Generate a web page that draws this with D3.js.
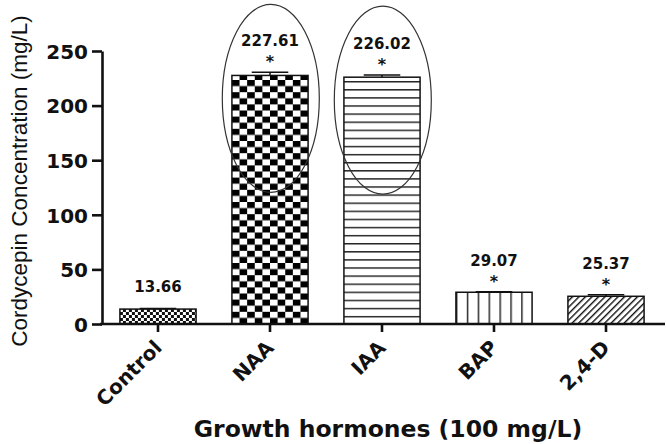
<!DOCTYPE html>
<html><head><meta charset="utf-8">
<script src="https://cdn.jsdelivr.net/npm/d3@7"></script>
<style>html,body{margin:0;padding:0;background:#fff;}svg{display:block;}</style>
</head><body>
<svg id="chart" width="666" height="444"></svg>
<script>
const categories = ["Control", "NAA", "IAA", "BAP", "2,4-D"];
const values = [13.66, 227.61, 226.02, 29.07, 25.37];
const errors = [0.5, 3, 2, 0.5, 1.5];
const valueLabels = ["13.66", "227.61", "226.02", "29.07", "25.37"];
const significant = [false, true, true, true, true];
const circled = [false, true, true, false, false];
const patterns = ["fineCheck", "bigCheck", "hLines", "vLines", "diag"];
const yTicks = [0, 50, 100, 150, 200, 250];
const yTitle = "Cordycepin Concentration (mg/L)";
const xTitle = "Growth hormones (100 mg/L)";

const svg = d3.select("#chart");
const x = d3.scaleBand().domain(categories).range([102, 662]).paddingInner(0.32).paddingOuter(0.16);
const y = d3.scaleLinear().domain([0, 250]).range([324, 51]);
const bw = x.bandwidth();

const defs = svg.append("defs");
categories.forEach((c, i) => {
  const bx = x(c), base = y(0);
  const id = "pat" + i, kind = patterns[i];
  let p;
  if (kind === "fineCheck") {
    p = defs.append("pattern").attr("id", id).attr("patternUnits", "userSpaceOnUse")
      .attr("x", bx).attr("y", base).attr("width", 6).attr("height", 6);
    p.append("rect").attr("width", 6).attr("height", 6).attr("fill", "#fff");
    p.append("rect").attr("width", 3).attr("height", 3).attr("fill", "#111");
    p.append("rect").attr("x", 3).attr("y", 3).attr("width", 3).attr("height", 3).attr("fill", "#111");
  } else if (kind === "bigCheck") {
    const w = bw / 10, h = 6.1;
    p = defs.append("pattern").attr("id", id).attr("patternUnits", "userSpaceOnUse")
      .attr("x", bx).attr("y", base).attr("width", 2 * w).attr("height", 2 * h);
    p.append("rect").attr("width", 2 * w).attr("height", 2 * h).attr("fill", "#fff");
    p.append("rect").attr("width", w).attr("height", h).attr("fill", "#000");
    p.append("rect").attr("x", w).attr("y", h).attr("width", w).attr("height", h).attr("fill", "#000");
  } else if (kind === "hLines") {
    p = defs.append("pattern").attr("id", id).attr("patternUnits", "userSpaceOnUse")
      .attr("x", bx).attr("y", base).attr("width", 10).attr("height", 8.1);
    p.append("rect").attr("width", 10).attr("height", 8.1).attr("fill", "#fff");
    p.append("line").attr("x1", 0).attr("x2", 10).attr("y1", 0.7).attr("y2", 0.7)
      .attr("stroke", "#222").attr("stroke-width", 1.5);
  } else if (kind === "vLines") {
    const s = bw / 7;
    p = defs.append("pattern").attr("id", id).attr("patternUnits", "userSpaceOnUse")
      .attr("x", bx).attr("y", base).attr("width", s).attr("height", 10);
    p.append("rect").attr("width", s).attr("height", 10).attr("fill", "#fff");
    p.append("line").attr("x1", 0.7).attr("x2", 0.7).attr("y1", 0).attr("y2", 10)
      .attr("stroke", "#222").attr("stroke-width", 1.5);
  } else {
    p = defs.append("pattern").attr("id", id).attr("patternUnits", "userSpaceOnUse")
      .attr("x", bx).attr("y", base).attr("width", 4.6).attr("height", 6)
      .attr("patternTransform", "rotate(45)");
    p.append("rect").attr("width", 4.6).attr("height", 6).attr("fill", "#fff");
    p.append("line").attr("x1", 0.7).attr("x2", 0.7).attr("y1", 0).attr("y2", 6)
      .attr("stroke", "#111").attr("stroke-width", 1.4);
  }
});

// bars
svg.append("g").selectAll("rect").data(categories).join("rect")
  .attr("x", d => x(d)).attr("y", (d, i) => y(values[i]))
  .attr("width", bw).attr("height", (d, i) => y(0) - y(values[i]))
  .attr("fill", (d, i) => "url(#pat" + i + ")")
  .attr("stroke", "#111").attr("stroke-width", 1.5);

// error bars
const eg = svg.append("g").attr("stroke", "#111").attr("stroke-width", 1.5);
categories.forEach((c, i) => {
  const cx = x(c) + bw / 2;
  eg.append("line").attr("x1", cx).attr("x2", cx).attr("y1", y(values[i])).attr("y2", y(values[i] + errors[i]));
  eg.append("line").attr("x1", cx - bw * 0.24).attr("x2", cx + bw * 0.24)
    .attr("y1", y(values[i] + errors[i])).attr("y2", y(values[i] + errors[i]));
});

// value labels and asterisks
const lg = svg.append("g").attr("font-family", "DejaVu Sans").attr("font-weight", "bold")
  .attr("text-anchor", "middle").attr("fill", "#111");
categories.forEach((c, i) => {
  const cx = x(c) + bw / 2;
  const top = y(values[i] + errors[i]);
  if (significant[i]) {
    lg.append("text").attr("x", cx).attr("y", top - 26).attr("font-size", 15).text(valueLabels[i]);
    lg.append("text").attr("x", cx).attr("y", top - 5).attr("font-size", 16).text("*");
  } else {
    lg.append("text").attr("x", cx).attr("y", top - 16.5).attr("font-size", 15).text(valueLabels[i]);
  }
});

// ellipses
categories.forEach((c, i) => {
  if (!circled[i]) return;
  svg.append("ellipse").attr("cx", x(c) + bw / 2 + 0.8).attr("cy", y(values[i]) + 23)
    .attr("rx", 48.5).attr("ry", 94)
    .attr("fill", "none").attr("stroke", "#333").attr("stroke-width", 1.2);
});

// y axis
const yAxis = svg.append("g").attr("transform", "translate(102,0)")
  .call(d3.axisLeft(y).tickValues(yTicks).tickSize(10).tickSizeOuter(0).tickPadding(4));
yAxis.select(".domain").attr("stroke", "#111").attr("stroke-width", 2.6);
yAxis.selectAll(".tick line").attr("stroke", "#111").attr("stroke-width", 2.6);
yAxis.selectAll(".tick text").attr("font-family", "DejaVu Sans").attr("font-weight", "bold")
  .attr("font-size", 20).attr("fill", "#111").attr("dy", "0.36em");

// x axis
const xAxis = svg.append("g").attr("transform", "translate(0,324)")
  .call(d3.axisBottom(x).tickSize(8).tickSizeOuter(0).tickPadding(6));
xAxis.select(".domain").attr("d", "M100,0H665").attr("stroke", "#111").attr("stroke-width", 2.6);
xAxis.selectAll(".tick line").attr("stroke", "#111").attr("stroke-width", 2.6);
xAxis.selectAll(".tick text").attr("font-family", "DejaVu Sans").attr("font-weight", "bold")
  .attr("font-size", 20).attr("fill", "#111")
  .attr("text-anchor", "end").attr("dy", null)
  .attr("transform", "translate(5,25) rotate(-45)").attr("y", 0).attr("x", 0);

// titles
svg.append("text").attr("transform", "translate(27,181) rotate(-90)")
  .attr("text-anchor", "middle").attr("font-family", "Liberation Sans").attr("font-size", 22.5)
  .attr("fill", "#111").text(yTitle);
svg.append("text").attr("x", 388).attr("y", 437)
  .attr("text-anchor", "middle").attr("font-family", "DejaVu Sans").attr("font-weight", "bold")
  .attr("font-size", 23.5).attr("fill", "#111").text(xTitle);
</script>
</body></html>
